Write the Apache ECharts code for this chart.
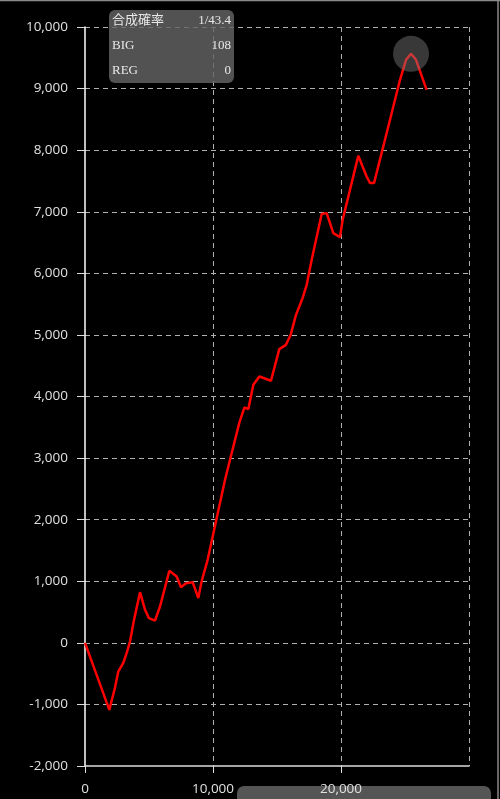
<!DOCTYPE html>
<html>
<head>
<meta charset="utf-8">
<script src="https://cdn.jsdelivr.net/npm/echarts@6/dist/echarts.min.js"></script>
<style>
html,body{margin:0;padding:0;background:#000;}
#c{width:500px;height:799px;}
</style>
</head>
<body>
<div id="c"></div>
<script>
// Games played (x) and difference in coins (y)
const gamesX = [0, 1900, 2340, 2600, 2990, 3260, 3515, 3830, 4300, 4690, 5000, 5470, 5860, 6590, 7160, 7500, 7890, 8410, 8850, 9110, 9580, 10940, 11330, 12050, 12450, 12760, 13150, 13620, 14530, 15180, 15700, 16070, 16460, 17000, 17320, 17710, 18490, 18880, 19400, 19920, 20130, 21350, 22000, 22270, 22580, 23830, 24610, 25080, 25470, 25860, 26690];
const coinsY = [0, -1088, -730, -466, -325, -163, 21, 373, 823, 536, 400, 362, 590, 1169, 1077, 904, 969, 985, 726, 996, 1348, 2647, 2972, 3568, 3821, 3795, 4190, 4325, 4255, 4769, 4839, 5002, 5310, 5598, 5814, 6220, 6962, 6978, 6653, 6588, 6869, 7908, 7572, 7465, 7465, 8493, 9143, 9467, 9565, 9467, 8980];
const highlightX = [25470];
const highlightY = [9565];
const yTicks = [-2000, 10000, 1000];
const xTicks = [0, 30000, 10000];
const infoLabels = ['合成確率', 'BIG', 'REG'];
const infoValues = ['1/43.4', '108', '0'];

const chart = echarts.init(document.getElementById('c'));
const fmt = v => v.toLocaleString('en-US');
const infoGraphics = [];
infoLabels.forEach((t, i) => {
  infoGraphics.push({type:'text', left:112, top: 14 + i*25, z:101,
    style:{text:t, fill:'#e8e8e8', font:'13px "Liberation Serif", "DejaVu Serif", "Noto Sans CJK JP", serif'}});
  infoGraphics.push({type:'text', right:500-231, top: 14 + i*25, z:101,
    style:{text:infoValues[i], fill:'#e8e8e8', textAlign:'right', font:'13px "Liberation Serif", "DejaVu Serif", serif'}});
});

chart.setOption({
  backgroundColor:'#000',
  animation:false,
  grid:{left:85, right:31, top:27, bottom:33},
  xAxis:{
    type:'value', min:xTicks[0], max:xTicks[1], interval:xTicks[2],
    axisLine:{show:true, onZero:false, lineStyle:{color:'#dcdcdc', width:1.5}},
    axisTick:{show:true, length:7, lineStyle:{color:'#dcdcdc'}},
    axisLabel:{color:'#e0e0e0', fontSize:13.5, margin:16, showMaxLabel:false, fontFamily:'"Open Sans", sans-serif', formatter:fmt},
    splitLine:{show:true, showMinLine:false, lineStyle:{color:'#b0b0b0', type:[5,4], width:1}}
  },
  yAxis:{
    type:'value', min:yTicks[0], max:yTicks[1], interval:yTicks[2],
    axisLine:{show:true, onZero:false, lineStyle:{color:'#ffffff', width:1.5}},
    axisTick:{show:true, length:8, lineStyle:{color:'#dcdcdc'}},
    axisLabel:{color:'#e0e0e0', fontSize:13.5, margin:17, fontFamily:'"Open Sans", sans-serif', formatter:fmt},
    splitLine:{show:true, showMinLine:false, lineStyle:{color:'#b0b0b0', type:[5,4], width:1}}
  },
  series:[
    {type:'line', data: gamesX.map((x,i)=>[x, coinsY[i]]), showSymbol:false, symbol:'none',
     lineStyle:{color:'#ff0000', width:2.5}, z:5},
    {type:'scatter', data: highlightX.map((x,i)=>[x, highlightY[i]]), symbolSize:36,
     itemStyle:{color:'rgba(128,128,128,0.55)'}, z:6}
  ],
  graphic:[
    {type:'rect', left:237, top:786, z:-10, shape:{width:254, height:30, r:7}, style:{fill:'#555555'}},
    {type:'rect', left:109, top:10, z:100, shape:{width:125, height:73, r:6}, style:{fill:'rgba(100,100,100,0.82)'}},
    {type:'line', shape:{x1:0, y1:0.5, x2:500, y2:0.5}, style:{stroke:'#8a8a8a', lineWidth:1.5}},
    {type:'line', shape:{x1:498, y1:0, x2:498, y2:799}, style:{stroke:'#8a8a8a', lineWidth:1.5}}
  ].concat(infoGraphics)
});
</script>
</body>
</html>
